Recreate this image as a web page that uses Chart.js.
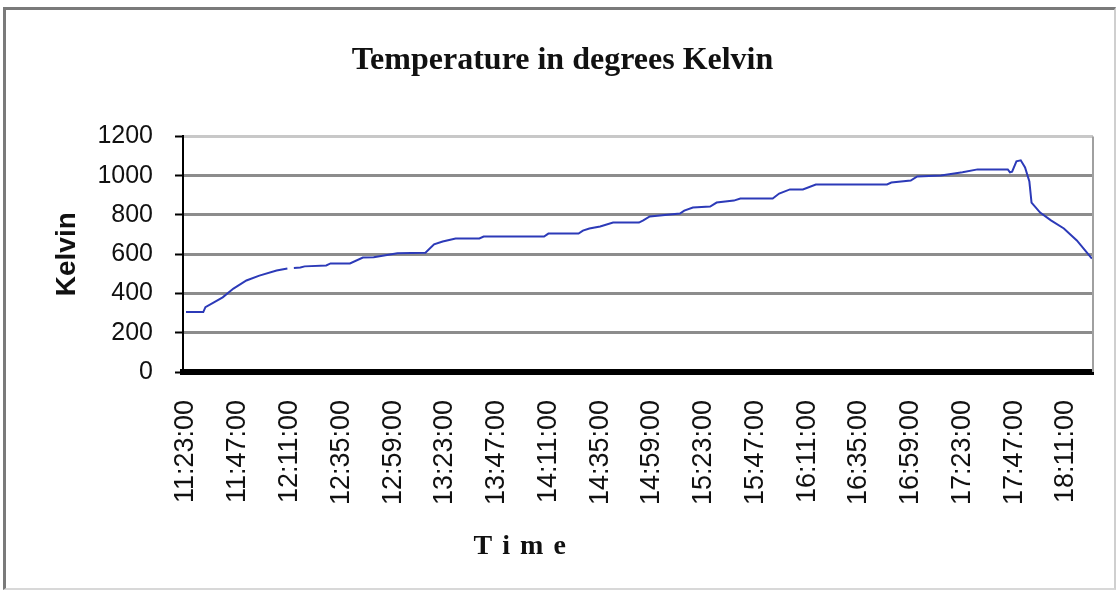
<!DOCTYPE html>
<html>
<head>
<meta charset="utf-8">
<script src="https://cdn.jsdelivr.net/npm/chart.js@4/dist/chart.umd.min.js"></script>
<style>
  body { margin: 0; background: #fff; }
  #frame {
    position: absolute; left: 3px; top: 7px; width: 1108px; height: 578px;
    border-left: 3px solid #7a7a7a; border-top: 3px solid #7a7a7a;
    border-right: 2px solid #cfcfcf; border-bottom: 2px solid #d8d8d8;
  }
  #chart { position: absolute; left: 0; top: 0; }
</style>
</head>
<body>
<div id="frame"></div>
<canvas id="chart" width="1120" height="591"></canvas>
<script>
// minutes after 11:23:00 (null = gap in the line)
const minutes = [0, 8, 9, 17, 22, 28, 34, 42, 47, 48,
  50, 53, 55, 65, 67, 76, 82, 87, 98, 111,
  115, 119, 125, 136, 138, 166, 168, 182, 184, 187,
  192, 198, 210, 212, 215, 229, 231, 235, 243, 246,
  254, 257, 272, 275, 280, 286, 292, 325, 327, 336,
  339, 350, 360, 367, 381, 382, 383, 385, 387, 389,
  391, 392, 396, 401, 407, 413, 420];
const kelvin = [305, 305, 330, 380, 425, 466, 491, 517, 527, null,
  530, 532, 538, 543, 553, 553, 583, 585, 605, 607,
  650, 665, 680, 680, 690, 690, 705, 705, 720, 731,
  741, 761, 761, 772, 792, 807, 822, 838, 843, 863,
  873, 884, 884, 909, 930, 930, 955, 955, 965, 975,
  996, 1001, 1017, 1032, 1032, 1017, 1020, 1073, 1078, 1042,
  970, 863, 812, 772, 731, 670, 578];

const tickMinutes = [0, 24, 48, 72, 96, 120, 144, 168, 192, 216, 240, 264, 288, 312, 336, 360, 384, 408];
const tickLabels = ['11:23:00', '11:47:00', '12:11:00', '12:35:00', '12:59:00', '13:23:00',
  '13:47:00', '14:11:00', '14:35:00', '14:59:00', '15:23:00', '15:47:00',
  '16:11:00', '16:35:00', '16:59:00', '17:23:00', '17:47:00', '18:11:00'];
const yTicks = [0, 200, 400, 600, 800, 1000, 1200];

const points = minutes.map((m, i) => ({ x: m, y: kelvin[i] }));

// right edge of plot + spaced out "Time" title
const extras = {
  id: 'extras',
  afterDraw(chart) {
    const { ctx, chartArea } = chart;
    ctx.save();
    ctx.strokeStyle = '#a0a0a0';
    ctx.lineWidth = 2;
    ctx.beginPath();
    ctx.moveTo(chartArea.right, chartArea.top);
    ctx.lineTo(chartArea.right, chartArea.bottom);
    ctx.stroke();

    ctx.font = 'bold 28px "Liberation Serif", "Times New Roman", serif';
    ctx.fillStyle = '#111';
    ctx.textBaseline = 'middle';
    const txt = 'Time', gap = 10;
    let w = 0;
    for (const c of txt) w += ctx.measureText(c).width;
    w += gap * (txt.length - 1);
    let x = chartArea.left + chartArea.width * 0.37 - w / 2;
    for (const c of txt) {
      ctx.fillText(c, x, 547);
      x += ctx.measureText(c).width + gap;
    }
    ctx.restore();
  }
};

new Chart(document.getElementById('chart'), {
  type: 'line',
  data: {
    datasets: [{
      data: points,
      borderColor: '#2c3ab8',
      borderWidth: 2,
      pointRadius: 0,
      tension: 0,
      spanGaps: false
    }]
  },
  options: {
    responsive: false,
    animation: false,
    devicePixelRatio: 1,
    layout: { padding: { left: 32, right: 27, top: 0, bottom: 0 } },
    plugins: {
      legend: { display: false },
      tooltip: { enabled: false },
      title: {
        display: true,
        text: 'Temperature in degrees Kelvin',
        color: '#111',
        font: { family: '"Liberation Serif", "Times New Roman", serif', size: 32, weight: 'bold' },
        padding: { top: 42, bottom: 56 }
      }
    },
    scales: {
      x: {
        type: 'linear',
        min: -1.4,
        max: 420.5,
        afterBuildTicks: s => { s.ticks = tickMinutes.map(v => ({ value: v })); },
        afterFit: s => { s.height = 219; s.paddingLeft = 0; s.paddingRight = 0; },
        grid: { display: false, drawTicks: false },
        border: { display: true, color: '#000', width: 6 },
        ticks: {
          autoSkip: false,
          minRotation: 90,
          maxRotation: 90,
          padding: 28,
          color: '#111',
          font: { family: '"Liberation Sans", Arial, sans-serif', size: 27 },
          callback: v => tickLabels[tickMinutes.indexOf(v)] || ''
        }
      },
      y: {
        min: 0,
        max: 1200,
        afterBuildTicks: s => { s.ticks = yTicks.map(v => ({ value: v })); },
        afterFit: s => { s.width = 151; },
        grid: {
          color: c => c.tick && c.tick.value === 1200 ? '#c8c8c8' : '#8c8c8c',
          lineWidth: 3,
          tickLength: 8,
          tickColor: '#000',
          tickWidth: 2
        },
        border: { display: true, color: '#000', width: 2 },
        ticks: {
          padding: 22,
          color: '#111',
          font: { family: '"Liberation Sans", Arial, sans-serif', size: 25 },
          callback: v => String(v)
        },
        title: {
          display: true,
          text: 'Kelvin',
          color: '#111',
          font: { family: '"Liberation Sans", Arial, sans-serif', size: 28, weight: 'bold' },
          padding: { top: 18, bottom: 0 }
        }
      }
    }
  },
  plugins: [extras]
});
</script>
</body>
</html>
